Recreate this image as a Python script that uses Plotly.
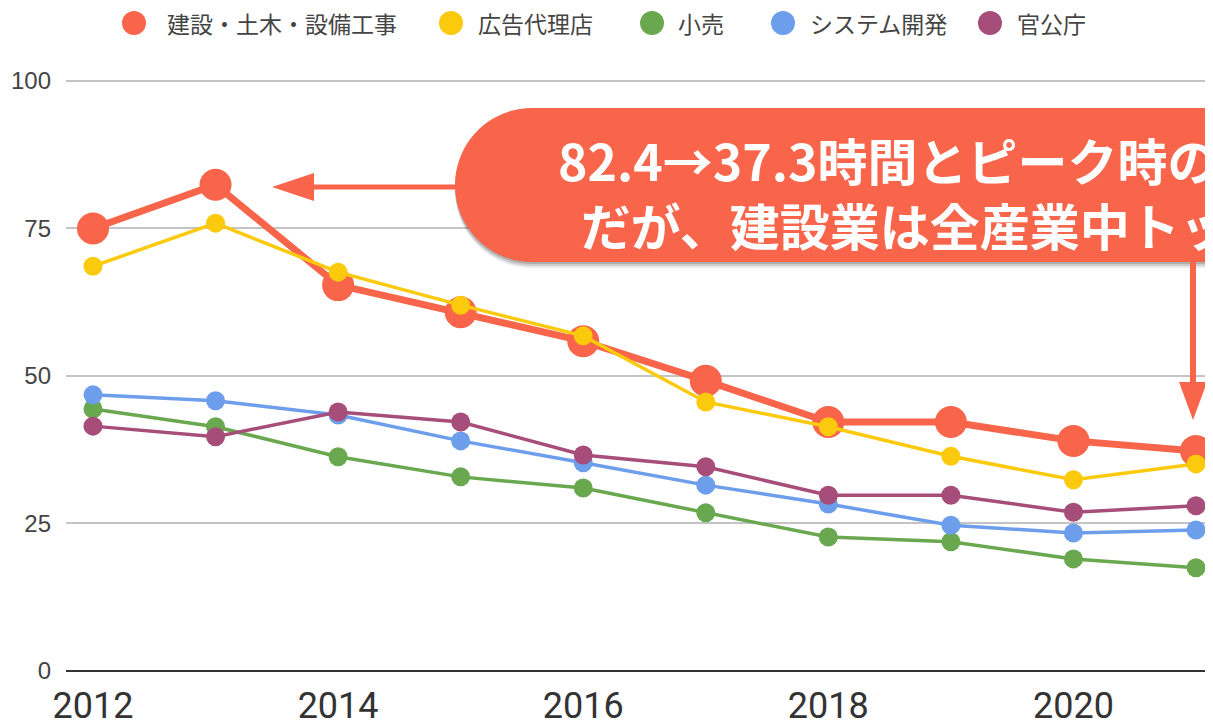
import plotly.graph_objects as go

years = [2012, 2013, 2014, 2015, 2016, 2017, 2018, 2019, 2020, 2021]
construction = [75.0, 82.4, 65.4, 60.8, 55.9, 49.2, 42.2, 42.2, 39.0, 37.3]
advertising = [68.6, 75.9, 67.6, 62.0, 56.8, 45.6, 41.4, 36.4, 32.4, 35.1]
retail = [44.4, 41.4, 36.3, 32.9, 31.0, 26.8, 22.7, 21.9, 19.0, 17.5]
system_dev = [46.8, 45.8, 43.4, 39.0, 35.3, 31.5, 28.3, 24.7, 23.4, 23.9]
government = [41.5, 39.7, 43.9, 42.2, 36.6, 34.6, 29.8, 29.8, 26.9, 28.0]

series_names = ["建設・土木・設備工事", "広告代理店", "小売", "システム開発", "官公庁"]
series_values = [construction, advertising, retail, system_dev, government]
colors = ["#F8654A", "#FCCA0C", "#6AA84F", "#6D9EEB", "#A64D79"]

x_tickvals = [2012, 2014, 2016, 2018, 2020]
x_ticktext = ["2012", "2014", "2016", "2018", "2020"]
y_tickvals = [0, 25, 50, 75, 100]
y_ticktext = ["0", "25", "50", "75", "100"]

callout_lines = ["82.4→37.3時間とピーク時の", "だが、建設業は全産業中トッ"]

W, H = 1213, 724
OFF = 8  # page body margin
L, R, T, B = 58, 0, 70, 61
PW, PH = W - L - R, H - T - B


def px(xw):
    return (xw - OFF - L) / PW


def py(yw):
    return (H - B - (yw - OFF)) / PH


fig = go.Figure()
for i, (name, vals, col) in enumerate(zip(series_names, series_values, colors)):
    big = i == 0
    fig.add_trace(go.Scatter(
        x=years, y=vals, name=name, mode="lines+markers",
        line=dict(color=col, width=7 if big else 3.5),
        marker=dict(color=col, size=32 if big else 19),
        cliponaxis=False, showlegend=False,
    ))

shapes = []
annotations = []

# manual legend
leg_circles = [134, 451, 652, 783, 990]
leg_texts = [165, 476, 676, 808, 1015]
leg_y = 23
for name, col, cx, tx in zip(series_names, colors, leg_circles, leg_texts):
    shapes.append(dict(type="circle", xref="paper", yref="paper",
                       xsizemode="pixel", ysizemode="pixel",
                       xanchor=px(cx), yanchor=py(leg_y),
                       x0=-12, x1=12, y0=-12, y1=12,
                       fillcolor=col, line=dict(width=0)))
    annotations.append(dict(text=name, xref="paper", yref="paper",
                            x=px(tx), y=py(leg_y), xanchor="left", yanchor="middle",
                            showarrow=False,
                            font=dict(family="Noto Sans CJK JP", size=23, color="#444444")))


# callout pill
def pill(ox, oy):
    l, t, b, r = 455 + ox, 108 + oy, 262 + oy, 1400
    rad = (b - t) / 2
    k = 0.5523 * rad
    cy = (t + b) / 2
    pts = [
        f"M{px(l + rad)},{py(t)}",
        f"L{px(r)},{py(t)}",
        f"L{px(r)},{py(b)}",
        f"L{px(l + rad)},{py(b)}",
        f"C{px(l + rad - k)},{py(b)} {px(l)},{py(cy + k)} {px(l)},{py(cy)}",
        f"C{px(l)},{py(cy - k)} {px(l + rad - k)},{py(t)} {px(l + rad)},{py(t)}",
        "Z",
    ]
    return " ".join(pts)


for ox, oy, a in [(0, 6, 0.08), (0, 4, 0.12), (0, 2, 0.15)]:
    shapes.append(dict(type="path", xref="paper", yref="paper", path=pill(ox, oy),
                       fillcolor=f"rgba(0,0,0,{a})", line=dict(width=0), layer="above"))
shapes.append(dict(type="path", xref="paper", yref="paper", path=pill(0, 0),
                   fillcolor="#F8654A", line=dict(width=0), layer="above"))

# arrows
red = "#F8654A"
shapes.append(dict(type="line", xref="paper", yref="paper",
                   x0=px(456), y0=py(187), x1=px(310), y1=py(187),
                   line=dict(color=red, width=5), layer="above"))
shapes.append(dict(type="path", xref="paper", yref="paper",
                   path=f"M{px(272)},{py(187)} L{px(314)},{py(173)} L{px(314)},{py(201)} Z",
                   fillcolor=red, line=dict(width=0), layer="above"))
shapes.append(dict(type="line", xref="paper", yref="paper",
                   x0=px(1193), y0=py(262), x1=px(1193), y1=py(386),
                   line=dict(color=red, width=6), layer="above"))
shapes.append(dict(type="path", xref="paper", yref="paper",
                   path=f"M{px(1193)},{py(420)} L{px(1179)},{py(382)} L{px(1207)},{py(382)} Z",
                   fillcolor=red, line=dict(width=0), layer="above"))

callout_text = "<b>" + callout_lines[0] + "<br>\u00a0\u00a0" + callout_lines[1] + "</b>"
annotations.append(dict(text=callout_text, xref="paper", yref="paper",
                        x=px(556), y=py(192), xanchor="left", yanchor="middle",
                        align="left", showarrow=False,
                        font=dict(family="Noto Sans CJK JP", size=50, color="white")))

fig.update_layout(
    width=W, height=H,
    margin=dict(l=L, r=R, t=T, b=B, pad=0),
    paper_bgcolor="white", plot_bgcolor="white",
    shapes=shapes, annotations=annotations,
    showlegend=False,
    xaxis=dict(range=[2011.7797, 2021.204], tickvals=x_tickvals, ticktext=x_ticktext,
               showgrid=False, zeroline=False, showline=False, ticks="",
               ticklabelstandoff=10,
               tickfont=dict(family="Liberation Sans Narrow, Roboto, sans-serif", size=36, color="#333333")),
    yaxis=dict(range=[0, 100.5], tickvals=y_tickvals, ticktext=y_ticktext,
               showgrid=True, gridcolor="#C4C4C4", gridwidth=2,
               zeroline=True, zerolinecolor="#333333", zerolinewidth=2,
               showline=False, ticks="", ticklabelstandoff=14,
               tickfont=dict(family="Liberation Sans, Arial, sans-serif", size=24, color="#444444")),
)

fig.write_html("out.html")
